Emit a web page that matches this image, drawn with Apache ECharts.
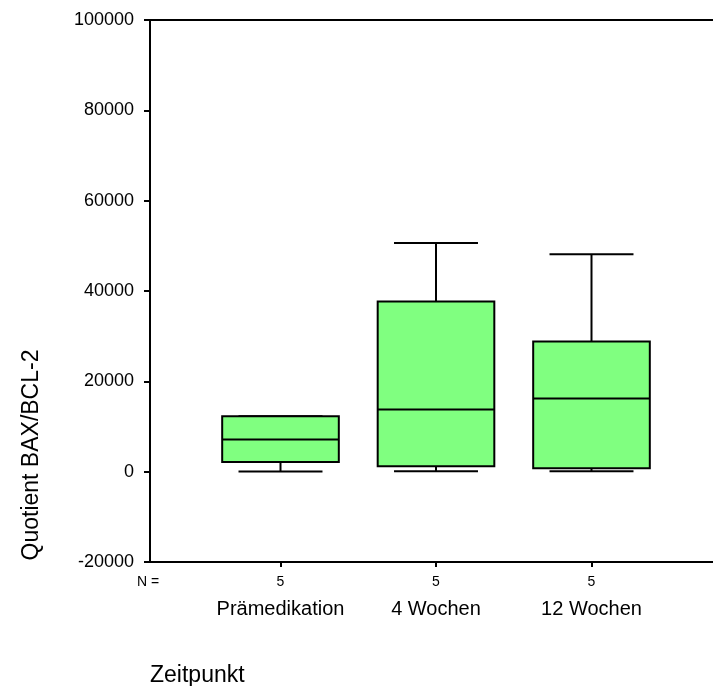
<!DOCTYPE html>
<html>
<head>
<meta charset="utf-8">
<script src="https://cdn.jsdelivr.net/npm/echarts@6/dist/echarts.min.js"></script>
<style>
  html, body { margin: 0; padding: 0; background: #fff; }
  #chart { width: 713px; height: 686px; }
</style>
</head>
<body>
<div id="chart"></div>
<script>
// Box plot of the BAX/BCL-2 quotient at three time points
const categories = ['Prämedikation', '4 Wochen', '12 Wochen'];
const nCounts = [5, 5, 5];
const whiskerLow = [40, 70, 70];
const quartile1 = [2150, 1180, 730];
const medians = [7100, 13750, 16190];
const quartile3 = [12260, 37690, 28830];
const whiskerHigh = [12260, 50620, 48120];
const yTicks = [-20000, 0, 20000, 40000, 60000, 80000, 100000];

const FONT = '"Liberation Sans", Arial, Helvetica, sans-serif';
const boxFill = '#80ff80';

const seriesData = categories.map((c, i) => [i, whiskerLow[i], quartile1[i], medians[i], quartile3[i], whiskerHigh[i]]);

function renderBox(params, api) {
  const idx = api.value(0);
  const band = api.size([1, 0])[0];
  const boxW = band * 0.75;
  const capW = band * 0.54;
  const pLow = api.coord([idx, api.value(1)]);
  const pQ1 = api.coord([idx, api.value(2)]);
  const pMed = api.coord([idx, api.value(3)]);
  const pQ3 = api.coord([idx, api.value(4)]);
  const pHigh = api.coord([idx, api.value(5)]);
  const cx = pQ1[0];
  const line = { stroke: '#000', lineWidth: 2 };
  const children = [];
  // whiskers and their caps
  children.push({ type: 'line', shape: { x1: cx, y1: pQ1[1], x2: cx, y2: pLow[1] }, style: line });
  children.push({ type: 'line', shape: { x1: cx, y1: pQ3[1], x2: cx, y2: pHigh[1] }, style: line });
  children.push({ type: 'line', shape: { x1: cx - capW / 2, y1: pLow[1], x2: cx + capW / 2, y2: pLow[1] }, style: line });
  children.push({ type: 'line', shape: { x1: cx - capW / 2, y1: pHigh[1], x2: cx + capW / 2, y2: pHigh[1] }, style: line });
  // interquartile box
  children.push({
    type: 'rect',
    shape: { x: cx - boxW / 2, y: pQ3[1], width: boxW, height: pQ1[1] - pQ3[1] },
    style: { fill: boxFill, stroke: '#000', lineWidth: 2 }
  });
  // median
  children.push({ type: 'line', shape: { x1: cx - boxW / 2, y1: pMed[1], x2: cx + boxW / 2, y2: pMed[1] }, style: line });
  return { type: 'group', children: children };
}

const chart = echarts.init(document.getElementById('chart'), null, { renderer: 'canvas' });

const frameX = {
  type: 'value', min: 0, max: 1,
  axisLine: { show: true, onZero: false, lineStyle: { color: '#000', width: 2 } },
  axisTick: { show: false }, axisLabel: { show: false }, splitLine: { show: false }
};

chart.setOption({
  animation: false,
  backgroundColor: '#fff',
  textStyle: { fontFamily: FONT },
  grid: [
    { left: 150, right: 0, top: 20, bottom: 124 },
    { left: 202.75, right: 43.75, top: 20, bottom: 124 }
  ],
  xAxis: [
    Object.assign({}, frameX, { gridIndex: 0, position: 'bottom' }),
    Object.assign({}, frameX, { gridIndex: 0, position: 'top' }),
    {
      type: 'category',
      gridIndex: 1,
      position: 'bottom',
      data: categories,
      axisLine: { show: false, onZero: false },
      axisTick: { show: true, alignWithLabel: true, length: 5, lineStyle: { color: '#000', width: 2 } },
      axisLabel: {
        margin: 10,
        interval: 0,
        formatter: (v, i) => '{n|' + nCounts[i] + '}\n{c|' + v + '}',
        rich: {
          n: { fontFamily: FONT, fontSize: 14, lineHeight: 20, color: '#000' },
          c: { fontFamily: FONT, fontSize: 20, lineHeight: 34, color: '#000' }
        }
      },
      splitLine: { show: false }
    }
  ],
  yAxis: [
    {
      type: 'value',
      gridIndex: 0,
      min: yTicks[0],
      max: yTicks[yTicks.length - 1],
      interval: 20000,
      axisLine: { show: true, onZero: false, lineStyle: { color: '#000', width: 2 } },
      axisTick: { show: true, length: 6, lineStyle: { color: '#000', width: 2 } },
      axisLabel: { margin: 16, fontFamily: FONT, fontSize: 18, color: '#000', formatter: v => String(v) },
      splitLine: { show: false }
    },
    {
      type: 'value',
      gridIndex: 1,
      min: yTicks[0],
      max: yTicks[yTicks.length - 1],
      interval: 20000,
      show: false
    }
  ],
  graphic: [
    { type: 'text', x: 148, y: 582, style: { text: 'N =', font: '14px ' + FONT, fill: '#000', align: 'center', verticalAlign: 'middle' } },
    { type: 'text', x: 32, y: 455, rotation: Math.PI / 2, style: { text: 'Quotient BAX/BCL-2', font: '23px ' + FONT, fill: '#000', align: 'center', verticalAlign: 'middle' } },
    { type: 'text', x: 150, y: 676, style: { text: 'Zeitpunkt', font: '23px ' + FONT, fill: '#000', align: 'left', verticalAlign: 'middle' } }
  ],
  series: [
    {
      type: 'custom',
      xAxisIndex: 2,
      yAxisIndex: 1,
      renderItem: renderBox,
      encode: { x: 0, y: [1, 2, 3, 4, 5] },
      data: seriesData
    }
  ]
});
</script>
</body>
</html>
